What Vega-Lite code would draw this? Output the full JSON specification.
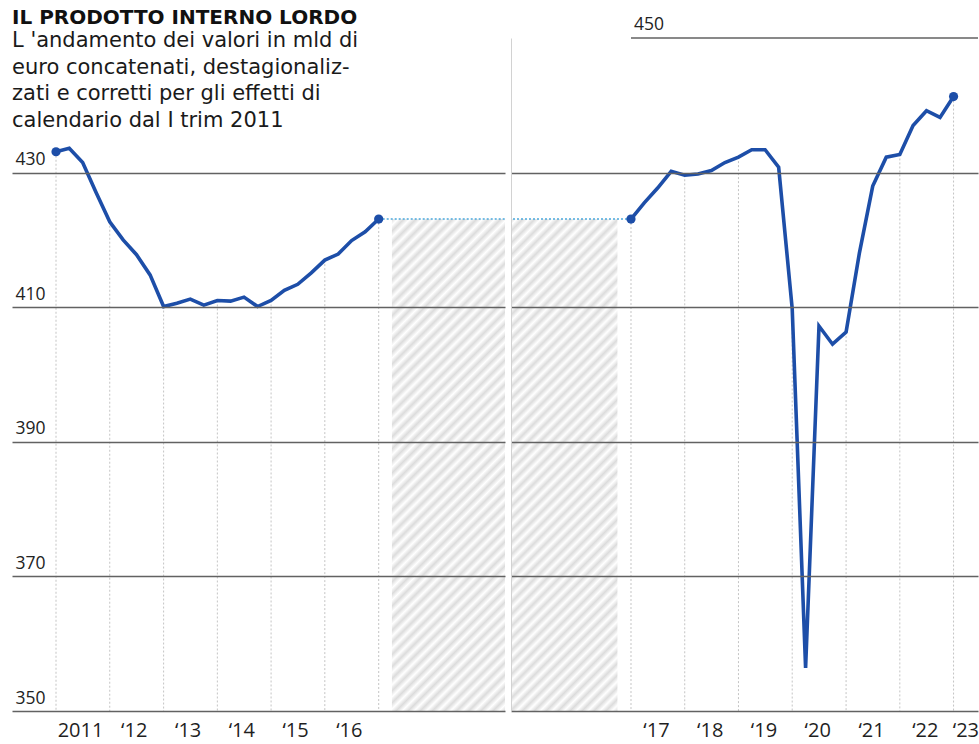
{
  "$schema": "https://vega.github.io/schema/vega-lite/v6.json",
  "background": "white",
  "padding": {"left": 12, "top": 7, "right": 0, "bottom": 6},
  "spacing": 4,
  "datasets": {
    "gdp": [
      {"date": "2011-01-01", "value": 433.1},
      {"date": "2011-04-01", "value": 433.6},
      {"date": "2011-07-01", "value": 431.5},
      {"date": "2011-10-01", "value": 427.0},
      {"date": "2012-01-01", "value": 422.7},
      {"date": "2012-04-01", "value": 420.0},
      {"date": "2012-07-01", "value": 417.8},
      {"date": "2012-10-01", "value": 414.8},
      {"date": "2013-01-01", "value": 410.1},
      {"date": "2013-04-01", "value": 410.6},
      {"date": "2013-07-01", "value": 411.2},
      {"date": "2013-10-01", "value": 410.3},
      {"date": "2014-01-01", "value": 411.0},
      {"date": "2014-04-01", "value": 410.9},
      {"date": "2014-07-01", "value": 411.5},
      {"date": "2014-10-01", "value": 410.1},
      {"date": "2015-01-01", "value": 411.0},
      {"date": "2015-04-01", "value": 412.5},
      {"date": "2015-07-01", "value": 413.4},
      {"date": "2015-10-01", "value": 415.1},
      {"date": "2016-01-01", "value": 417.0},
      {"date": "2016-04-01", "value": 417.9},
      {"date": "2016-07-01", "value": 419.9},
      {"date": "2016-10-01", "value": 421.2},
      {"date": "2017-01-01", "value": 423.1},
      {"date": "2017-04-01", "value": 425.5},
      {"date": "2017-07-01", "value": 427.7},
      {"date": "2017-10-01", "value": 430.2},
      {"date": "2018-01-01", "value": 429.6},
      {"date": "2018-04-01", "value": 429.8},
      {"date": "2018-07-01", "value": 430.3},
      {"date": "2018-10-01", "value": 431.5},
      {"date": "2019-01-01", "value": 432.3},
      {"date": "2019-04-01", "value": 433.4},
      {"date": "2019-07-01", "value": 433.4},
      {"date": "2019-10-01", "value": 430.8},
      {"date": "2020-01-01", "value": 409.8},
      {"date": "2020-04-01", "value": 356.4},
      {"date": "2020-07-01", "value": 407.2},
      {"date": "2020-10-01", "value": 404.5},
      {"date": "2021-01-01", "value": 406.3},
      {"date": "2021-04-01", "value": 418.0},
      {"date": "2021-07-01", "value": 428.0},
      {"date": "2021-10-01", "value": 432.3},
      {"date": "2022-01-01", "value": 432.7},
      {"date": "2022-04-01", "value": 437.0},
      {"date": "2022-07-01", "value": 439.2},
      {"date": "2022-10-01", "value": 438.2},
      {"date": "2023-01-01", "value": 441.3}
    ]
  },
  "data": {"name": "gdp", "format": {"parse": {"date": "date"}}},
  "title": {
    "text": "IL PRODOTTO INTERNO LORDO",
    "subtitle": ["L 'andamento dei valori in mld di", "euro concatenati, destagionaliz-", "zati e corretti per gli effetti di", "calendario dal I trim 2011"],
    "anchor": "start",
    "frame": "group",
    "orient": "top",
    "offset": -115,
    "font": "DejaVu Sans",
    "fontSize": 20,
    "fontWeight": "bold",
    "color": "#111111",
    "subtitleFont": "DejaVu Sans",
    "subtitleFontSize": 21,
    "subtitleFontWeight": 400,
    "subtitleColor": "#1a1a1a",
    "subtitleLineHeight": 26.7,
    "subtitlePadding": 2
  },
  "resolve": {"scale": {"x": "independent", "y": "independent"}, "axis": {"x": "independent", "y": "independent"}},
  "config": {"view": {"stroke": null}, "font": "Open Sans"},
  "hconcat": [
    {
      "width": 493,
      "height": 673,
      "transform": [{"filter": "time(datum.date) <= utc(2017,0,1)"}],
      "layer": [
        {
          "transform": [{"filter": "utcyear(datum.date) == 2017 && utcmonth(datum.date) == 0"}],
          "mark": {"type": "rect", "opacity": 0.3, "fill": {"gradient": "linear", "x1": 0, "y1": 0, "x2": 0.268, "y2": 1.168, "stops": [
            {"offset": 0.00, "color": "#8a8a8a"}, {"offset": 0.01, "color": "#ffffff"}, {"offset": 0.02, "color": "#8a8a8a"}, {"offset": 0.03, "color": "#ffffff"}, {"offset": 0.04, "color": "#8a8a8a"}, {"offset": 0.05, "color": "#ffffff"}, {"offset": 0.06, "color": "#8a8a8a"}, {"offset": 0.07, "color": "#ffffff"}, {"offset": 0.08, "color": "#8a8a8a"}, {"offset": 0.09, "color": "#ffffff"},
            {"offset": 0.10, "color": "#8a8a8a"}, {"offset": 0.11, "color": "#ffffff"}, {"offset": 0.12, "color": "#8a8a8a"}, {"offset": 0.13, "color": "#ffffff"}, {"offset": 0.14, "color": "#8a8a8a"}, {"offset": 0.15, "color": "#ffffff"}, {"offset": 0.16, "color": "#8a8a8a"}, {"offset": 0.17, "color": "#ffffff"}, {"offset": 0.18, "color": "#8a8a8a"}, {"offset": 0.19, "color": "#ffffff"},
            {"offset": 0.20, "color": "#8a8a8a"}, {"offset": 0.21, "color": "#ffffff"}, {"offset": 0.22, "color": "#8a8a8a"}, {"offset": 0.23, "color": "#ffffff"}, {"offset": 0.24, "color": "#8a8a8a"}, {"offset": 0.25, "color": "#ffffff"}, {"offset": 0.26, "color": "#8a8a8a"}, {"offset": 0.27, "color": "#ffffff"}, {"offset": 0.28, "color": "#8a8a8a"}, {"offset": 0.29, "color": "#ffffff"},
            {"offset": 0.30, "color": "#8a8a8a"}, {"offset": 0.31, "color": "#ffffff"}, {"offset": 0.32, "color": "#8a8a8a"}, {"offset": 0.33, "color": "#ffffff"}, {"offset": 0.34, "color": "#8a8a8a"}, {"offset": 0.35, "color": "#ffffff"}, {"offset": 0.36, "color": "#8a8a8a"}, {"offset": 0.37, "color": "#ffffff"}, {"offset": 0.38, "color": "#8a8a8a"}, {"offset": 0.39, "color": "#ffffff"},
            {"offset": 0.40, "color": "#8a8a8a"}, {"offset": 0.41, "color": "#ffffff"}, {"offset": 0.42, "color": "#8a8a8a"}, {"offset": 0.43, "color": "#ffffff"}, {"offset": 0.44, "color": "#8a8a8a"}, {"offset": 0.45, "color": "#ffffff"}, {"offset": 0.46, "color": "#8a8a8a"}, {"offset": 0.47, "color": "#ffffff"}, {"offset": 0.48, "color": "#8a8a8a"}, {"offset": 0.49, "color": "#ffffff"},
            {"offset": 0.50, "color": "#8a8a8a"}, {"offset": 0.51, "color": "#ffffff"}, {"offset": 0.52, "color": "#8a8a8a"}, {"offset": 0.53, "color": "#ffffff"}, {"offset": 0.54, "color": "#8a8a8a"}, {"offset": 0.55, "color": "#ffffff"}, {"offset": 0.56, "color": "#8a8a8a"}, {"offset": 0.57, "color": "#ffffff"}, {"offset": 0.58, "color": "#8a8a8a"}, {"offset": 0.59, "color": "#ffffff"},
            {"offset": 0.60, "color": "#8a8a8a"}, {"offset": 0.61, "color": "#ffffff"}, {"offset": 0.62, "color": "#8a8a8a"}, {"offset": 0.63, "color": "#ffffff"}, {"offset": 0.64, "color": "#8a8a8a"}, {"offset": 0.65, "color": "#ffffff"}, {"offset": 0.66, "color": "#8a8a8a"}, {"offset": 0.67, "color": "#ffffff"}, {"offset": 0.68, "color": "#8a8a8a"}, {"offset": 0.69, "color": "#ffffff"},
            {"offset": 0.70, "color": "#8a8a8a"}, {"offset": 0.71, "color": "#ffffff"}, {"offset": 0.72, "color": "#8a8a8a"}, {"offset": 0.73, "color": "#ffffff"}, {"offset": 0.74, "color": "#8a8a8a"}, {"offset": 0.75, "color": "#ffffff"}, {"offset": 0.76, "color": "#8a8a8a"}, {"offset": 0.77, "color": "#ffffff"}, {"offset": 0.78, "color": "#8a8a8a"}, {"offset": 0.79, "color": "#ffffff"},
            {"offset": 0.80, "color": "#8a8a8a"}, {"offset": 0.81, "color": "#ffffff"}, {"offset": 0.82, "color": "#8a8a8a"}, {"offset": 0.83, "color": "#ffffff"}, {"offset": 0.84, "color": "#8a8a8a"}, {"offset": 0.85, "color": "#ffffff"}, {"offset": 0.86, "color": "#8a8a8a"}, {"offset": 0.87, "color": "#ffffff"}, {"offset": 0.88, "color": "#8a8a8a"}, {"offset": 0.89, "color": "#ffffff"},
            {"offset": 0.90, "color": "#8a8a8a"}, {"offset": 0.91, "color": "#ffffff"}, {"offset": 0.92, "color": "#8a8a8a"}, {"offset": 0.93, "color": "#ffffff"}, {"offset": 0.94, "color": "#8a8a8a"}, {"offset": 0.95, "color": "#ffffff"}, {"offset": 0.96, "color": "#8a8a8a"}, {"offset": 0.97, "color": "#ffffff"}, {"offset": 0.98, "color": "#8a8a8a"}, {"offset": 0.99, "color": "#ffffff"}, {"offset": 1.00, "color": "#8a8a8a"}
          ]}},
          "encoding": {
            "x": {"datum": {"year": 2017, "month": 4, "date": 1, "utc": true}, "type": "temporal"},
            "x2": {"datum": {"year": 2019, "month": 5, "date": 9, "utc": true}},
            "y": {"field": "value", "type": "quantitative"},
            "y2": {"datum": 350}
          }
        },
        {
          "transform": [{"filter": "utcmonth(datum.date) == 0"}],
          "mark": {"type": "rule", "stroke": "#c4c4c4", "strokeWidth": 1, "strokeDash": [2, 2]},
          "encoding": {
            "x": {"field": "date", "type": "temporal"},
            "y": {"field": "value", "type": "quantitative"},
            "y2": {"datum": 350}
          }
        },
        {
          "transform": [{"filter": "utcyear(datum.date) == 2017 && utcmonth(datum.date) == 0"}],
          "mark": {"type": "rule", "stroke": "#4aa8dc", "strokeWidth": 1.5, "strokeDash": [2, 2]},
          "encoding": {
            "x": {"field": "date", "type": "temporal"},
            "x2": {"datum": {"year": 2019, "month": 5, "date": 9, "utc": true}},
            "y": {"field": "value", "type": "quantitative"}
          }
        },
        {
          "mark": {"type": "line", "color": "#1d4ea8", "strokeWidth": 3.6},
          "encoding": {
            "x": {
              "field": "date", "type": "temporal",
              "scale": {"type": "utc", "domain": [{"year": 2010, "month": 3, "date": 8, "utc": true}, {"year": 2019, "month": 5, "date": 9, "utc": true}]},
              "axis": {
                "title": null,
                "values": [{"year": 2011, "utc": true}, {"year": 2012, "utc": true}, {"year": 2013, "utc": true}, {"year": 2014, "utc": true}, {"year": 2015, "utc": true}, {"year": 2016, "utc": true}],
                "grid": false, "domain": false, "ticks": false, "tickSize": 0,
                "labelPadding": 9, "labelFontSize": 20, "labelFont": "Open Sans", "labelColor": "#1f1f1f", "labelBaseline": "top", "labelAlign": "center",
                "labelOverlap": false, "labelBound": false, "labelFlush": false, "labelOffset": 24,
                "labelExpr": "utcyear(datum.value) == 2011 ? '2011' : '‘' + utcFormat(datum.value, '%y')"
              }
            },
            "y": {
              "field": "value", "type": "quantitative",
              "scale": {"domain": [350, 450], "nice": false, "zero": false},
              "axis": {
                "title": null, "values": [350, 370, 390, 410, 430], "grid": true, "gridColor": "#626262", "gridWidth": 1.5, "zindex": 1,
                "domain": false, "ticks": false, "tickSize": 0, "labelAlign": "left", "labelBaseline": "alphabetic",
                "labelPadding": -3, "labelOffset": -8, "labelFontSize": 17.5, "labelFont": "Open Sans", "labelColor": "#222222"
              }
            }
          }
        },
        {
          "transform": [{"filter": "(utcyear(datum.date) == 2017 || utcyear(datum.date) == 2011) && utcmonth(datum.date) == 0"}],
          "mark": {"type": "point", "filled": true, "color": "#1d4ea8", "size": 85, "opacity": 1},
          "encoding": {
            "x": {"field": "date", "type": "temporal"},
            "y": {"field": "value", "type": "quantitative"}
          }
        }
      ]
    },
    {
      "width": 467,
      "height": 673,
      "transform": [{"filter": "time(datum.date) >= utc(2017,0,1)"}],
      "layer": [
        {
          "transform": [{"filter": "utcyear(datum.date) == 2017 && utcmonth(datum.date) == 0"}],
          "mark": {"type": "rect", "opacity": 0.3, "fill": {"gradient": "linear", "x1": 0, "y1": 0, "x2": 0.253, "y2": 1.163, "stops": [
            {"offset": 0.00, "color": "#8a8a8a"}, {"offset": 0.01, "color": "#ffffff"}, {"offset": 0.02, "color": "#8a8a8a"}, {"offset": 0.03, "color": "#ffffff"}, {"offset": 0.04, "color": "#8a8a8a"}, {"offset": 0.05, "color": "#ffffff"}, {"offset": 0.06, "color": "#8a8a8a"}, {"offset": 0.07, "color": "#ffffff"}, {"offset": 0.08, "color": "#8a8a8a"}, {"offset": 0.09, "color": "#ffffff"},
            {"offset": 0.10, "color": "#8a8a8a"}, {"offset": 0.11, "color": "#ffffff"}, {"offset": 0.12, "color": "#8a8a8a"}, {"offset": 0.13, "color": "#ffffff"}, {"offset": 0.14, "color": "#8a8a8a"}, {"offset": 0.15, "color": "#ffffff"}, {"offset": 0.16, "color": "#8a8a8a"}, {"offset": 0.17, "color": "#ffffff"}, {"offset": 0.18, "color": "#8a8a8a"}, {"offset": 0.19, "color": "#ffffff"},
            {"offset": 0.20, "color": "#8a8a8a"}, {"offset": 0.21, "color": "#ffffff"}, {"offset": 0.22, "color": "#8a8a8a"}, {"offset": 0.23, "color": "#ffffff"}, {"offset": 0.24, "color": "#8a8a8a"}, {"offset": 0.25, "color": "#ffffff"}, {"offset": 0.26, "color": "#8a8a8a"}, {"offset": 0.27, "color": "#ffffff"}, {"offset": 0.28, "color": "#8a8a8a"}, {"offset": 0.29, "color": "#ffffff"},
            {"offset": 0.30, "color": "#8a8a8a"}, {"offset": 0.31, "color": "#ffffff"}, {"offset": 0.32, "color": "#8a8a8a"}, {"offset": 0.33, "color": "#ffffff"}, {"offset": 0.34, "color": "#8a8a8a"}, {"offset": 0.35, "color": "#ffffff"}, {"offset": 0.36, "color": "#8a8a8a"}, {"offset": 0.37, "color": "#ffffff"}, {"offset": 0.38, "color": "#8a8a8a"}, {"offset": 0.39, "color": "#ffffff"},
            {"offset": 0.40, "color": "#8a8a8a"}, {"offset": 0.41, "color": "#ffffff"}, {"offset": 0.42, "color": "#8a8a8a"}, {"offset": 0.43, "color": "#ffffff"}, {"offset": 0.44, "color": "#8a8a8a"}, {"offset": 0.45, "color": "#ffffff"}, {"offset": 0.46, "color": "#8a8a8a"}, {"offset": 0.47, "color": "#ffffff"}, {"offset": 0.48, "color": "#8a8a8a"}, {"offset": 0.49, "color": "#ffffff"},
            {"offset": 0.50, "color": "#8a8a8a"}, {"offset": 0.51, "color": "#ffffff"}, {"offset": 0.52, "color": "#8a8a8a"}, {"offset": 0.53, "color": "#ffffff"}, {"offset": 0.54, "color": "#8a8a8a"}, {"offset": 0.55, "color": "#ffffff"}, {"offset": 0.56, "color": "#8a8a8a"}, {"offset": 0.57, "color": "#ffffff"}, {"offset": 0.58, "color": "#8a8a8a"}, {"offset": 0.59, "color": "#ffffff"},
            {"offset": 0.60, "color": "#8a8a8a"}, {"offset": 0.61, "color": "#ffffff"}, {"offset": 0.62, "color": "#8a8a8a"}, {"offset": 0.63, "color": "#ffffff"}, {"offset": 0.64, "color": "#8a8a8a"}, {"offset": 0.65, "color": "#ffffff"}, {"offset": 0.66, "color": "#8a8a8a"}, {"offset": 0.67, "color": "#ffffff"}, {"offset": 0.68, "color": "#8a8a8a"}, {"offset": 0.69, "color": "#ffffff"},
            {"offset": 0.70, "color": "#8a8a8a"}, {"offset": 0.71, "color": "#ffffff"}, {"offset": 0.72, "color": "#8a8a8a"}, {"offset": 0.73, "color": "#ffffff"}, {"offset": 0.74, "color": "#8a8a8a"}, {"offset": 0.75, "color": "#ffffff"}, {"offset": 0.76, "color": "#8a8a8a"}, {"offset": 0.77, "color": "#ffffff"}, {"offset": 0.78, "color": "#8a8a8a"}, {"offset": 0.79, "color": "#ffffff"},
            {"offset": 0.80, "color": "#8a8a8a"}, {"offset": 0.81, "color": "#ffffff"}, {"offset": 0.82, "color": "#8a8a8a"}, {"offset": 0.83, "color": "#ffffff"}, {"offset": 0.84, "color": "#8a8a8a"}, {"offset": 0.85, "color": "#ffffff"}, {"offset": 0.86, "color": "#8a8a8a"}, {"offset": 0.87, "color": "#ffffff"}, {"offset": 0.88, "color": "#8a8a8a"}, {"offset": 0.89, "color": "#ffffff"},
            {"offset": 0.90, "color": "#8a8a8a"}, {"offset": 0.91, "color": "#ffffff"}, {"offset": 0.92, "color": "#8a8a8a"}, {"offset": 0.93, "color": "#ffffff"}, {"offset": 0.94, "color": "#8a8a8a"}, {"offset": 0.95, "color": "#ffffff"}, {"offset": 0.96, "color": "#8a8a8a"}, {"offset": 0.97, "color": "#ffffff"}, {"offset": 0.98, "color": "#8a8a8a"}, {"offset": 0.99, "color": "#ffffff"}, {"offset": 1.00, "color": "#8a8a8a"}
          ]}},
          "encoding": {
            "x": {"datum": {"year": 2014, "month": 10, "date": 9, "utc": true}, "type": "temporal"},
            "x2": {"datum": {"year": 2016, "month": 10, "date": 1, "utc": true}},
            "y": {"field": "value", "type": "quantitative"},
            "y2": {"datum": 350}
          }
        },
        {
          "transform": [{"filter": "utcmonth(datum.date) == 0"}],
          "mark": {"type": "rule", "stroke": "#c4c4c4", "strokeWidth": 1, "strokeDash": [2, 2]},
          "encoding": {
            "x": {"field": "date", "type": "temporal"},
            "y": {"field": "value", "type": "quantitative"},
            "y2": {"datum": 350}
          }
        },
        {
          "transform": [{"filter": "utcyear(datum.date) == 2017 && utcmonth(datum.date) == 0"}],
          "mark": {"type": "rule", "stroke": "#4aa8dc", "strokeWidth": 1.5, "strokeDash": [2, 2]},
          "encoding": {
            "x": {"field": "date", "type": "temporal"},
            "x2": {"datum": {"year": 2014, "month": 10, "date": 9, "utc": true}},
            "y": {"field": "value", "type": "quantitative"}
          }
        },
        {
          "transform": [{"filter": "utcyear(datum.date) == 2017 && utcmonth(datum.date) == 0"}],
          "mark": {"type": "rule", "stroke": "#626262", "strokeWidth": 1.5},
          "encoding": {
            "x": {"field": "date", "type": "temporal"},
            "x2": {"datum": {"year": 2023, "month": 6, "date": 16, "utc": true}},
            "y": {"datum": 450, "type": "quantitative"}
          }
        },
        {
          "transform": [{"filter": "utcyear(datum.date) == 2017 && utcmonth(datum.date) == 0"}],
          "mark": {"type": "text", "align": "left", "baseline": "alphabetic", "dx": 3, "dy": -8, "fontSize": 17.5, "font": "Open Sans", "color": "#222222"},
          "encoding": {
            "x": {"field": "date", "type": "temporal"},
            "y": {"datum": 450, "type": "quantitative"},
            "text": {"datum": 450}
          }
        },
        {
          "mark": {"type": "line", "color": "#1d4ea8", "strokeWidth": 3.6},
          "encoding": {
            "x": {
              "field": "date", "type": "temporal",
              "scale": {"type": "utc", "domain": [{"year": 2014, "month": 10, "date": 9, "utc": true}, {"year": 2023, "month": 6, "date": 16, "utc": true}]},
              "axis": {
                "title": null,
                "values": [{"year": 2017, "utc": true}, {"year": 2018, "utc": true}, {"year": 2019, "utc": true}, {"year": 2020, "utc": true}, {"year": 2021, "utc": true}, {"year": 2022, "utc": true}, {"year": 2023, "utc": true}],
                "grid": false, "domain": false, "ticks": false, "tickSize": 0,
                "labelPadding": 9, "labelFontSize": 20, "labelFont": "Open Sans", "labelColor": "#1f1f1f", "labelBaseline": "top",
                "labelAlign": {"condition": {"test": "utcyear(datum.value) == 2023", "value": "right"}, "value": "center"},
                "labelOverlap": false, "labelBound": false, "labelFlush": false, "labelOffset": 25,
                "labelExpr": "'‘' + utcFormat(datum.value, '%y')"
              }
            },
            "y": {
              "field": "value", "type": "quantitative",
              "scale": {"domain": [350, 450], "nice": false, "zero": false},
              "axis": {
                "title": null, "values": [350, 370, 390, 410, 430], "grid": true, "gridColor": "#626262", "gridWidth": 1.5, "zindex": 1,
                "domain": true, "domainColor": "#d2d2d2", "domainWidth": 1, "ticks": false, "tickSize": 0, "labels": false, "minExtent": 0
              }
            }
          }
        },
        {
          "transform": [{"filter": "(utcyear(datum.date) == 2017 || utcyear(datum.date) == 2023) && utcmonth(datum.date) == 0"}],
          "mark": {"type": "point", "filled": true, "color": "#1d4ea8", "size": 85, "opacity": 1},
          "encoding": {
            "x": {"field": "date", "type": "temporal"},
            "y": {"field": "value", "type": "quantitative"}
          }
        }
      ]
    }
  ]
}
